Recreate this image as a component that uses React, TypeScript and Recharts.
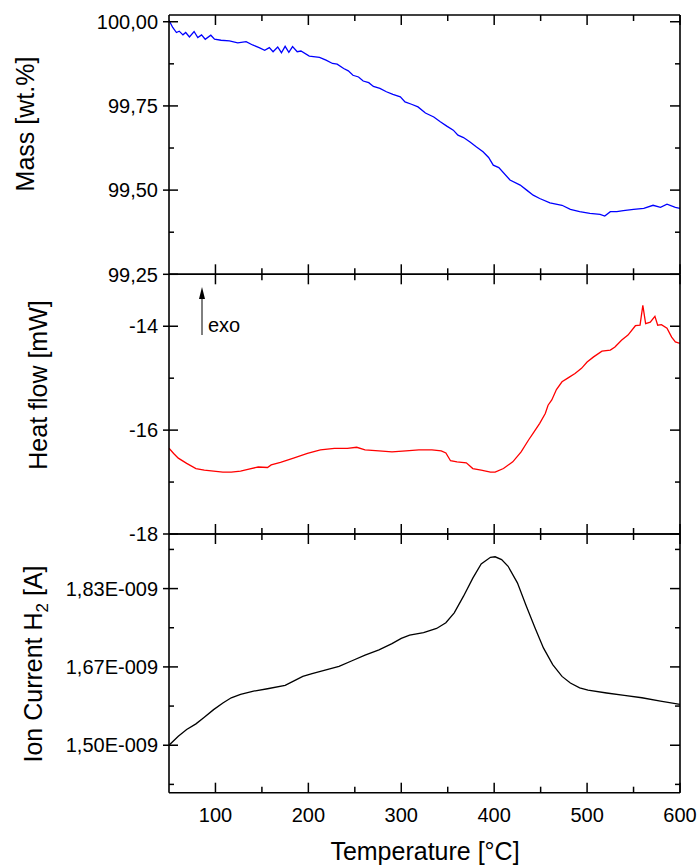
import React from 'react';
import { LineChart, Line, XAxis, YAxis } from 'recharts';

const W = 698;
const H = 865;
const PLOT_LEFT = 169;
const PLOT_RIGHT = 680;
const FONT = '"Liberation Sans", Arial, sans-serif';
const THIN = 0.01; // axes need a non-zero box to be drawn

// temperature axis
const tempMajor = [100, 200, 300, 400, 500, 600];
const tempMinor = [150, 250, 350, 450, 550];

// TG: mass [wt.%]
const massTemp = [50, 54, 58, 61, 65, 68, 72, 77, 81, 85, 89, 95, 99, 106, 115, 124, 133, 140, 147, 153,
  158, 162, 167, 171, 175, 179, 183, 188, 192, 201, 212, 219, 226, 231, 238, 243, 248, 254, 259, 265,
  270, 277, 284, 291, 299, 304, 311, 318, 326, 335, 342, 349, 356, 361, 367, 374, 381, 388, 394, 399,
  405, 417, 428, 435, 442, 449, 460, 473, 482, 492, 503, 514, 519, 525, 532, 539, 550, 561, 571, 579,
  586, 595, 600];
const massValues = [100.004, 99.983, 99.968, 99.972, 99.961, 99.968, 99.955, 99.971, 99.953, 99.961,
  99.948, 99.96, 99.948, 99.945, 99.943, 99.937, 99.941, 99.931, 99.923, 99.915,
  99.923, 99.911, 99.925, 99.908, 99.927, 99.909, 99.926, 99.911, 99.913, 99.898,
  99.894, 99.886, 99.876, 99.874, 99.861, 99.854, 99.841, 99.836, 99.824, 99.819,
  99.808, 99.802, 99.792, 99.784, 99.777, 99.762, 99.755, 99.747, 99.729, 99.717,
  99.703, 99.69, 99.678, 99.663, 99.656, 99.643, 99.628, 99.614, 99.597, 99.574,
  99.567, 99.53, 99.515, 99.5, 99.485, 99.475, 99.462, 99.455, 99.443, 99.436,
  99.431, 99.428, 99.423, 99.436, 99.436, 99.439, 99.443, 99.446, 99.455, 99.449,
  99.458, 99.449, 99.446];
const massMajor = [99.25, 99.5, 99.75, 100];
const massMinor = [99.375, 99.625, 99.875];

// DSC: heat flow [mW]
const heatTemp = [50, 55, 60, 69, 79, 88, 98, 108, 117, 127, 136, 146, 156, 160, 170, 184, 199, 213, 228, 242,
  252, 261, 276, 290, 305, 319, 333, 343, 348, 353, 360, 370, 377, 386, 396, 401, 410, 420, 429, 437,
  442, 449, 455, 458, 462, 467, 473, 480, 487, 494, 500, 507, 516, 525, 530, 537, 544, 552, 557, 560,
  563, 568, 573, 576, 580, 586, 591, 595, 600];
const heatValues = [-16.35, -16.45, -16.54, -16.64, -16.74, -16.77, -16.79, -16.81, -16.81, -16.79,
  -16.75, -16.71, -16.72, -16.67, -16.62, -16.54, -16.45, -16.38, -16.35, -16.35,
  -16.33, -16.38, -16.4, -16.42, -16.4, -16.38, -16.38, -16.4, -16.44, -16.59,
  -16.61, -16.63, -16.74, -16.77, -16.81, -16.81, -16.74, -16.61, -16.42, -16.19,
  -16.06, -15.87, -15.68, -15.52, -15.42, -15.22, -15.07, -14.99, -14.91, -14.81,
  -14.69, -14.59, -14.48, -14.46, -14.4, -14.27, -14.17, -13.99, -13.98, -13.6,
  -13.95, -13.92, -13.81, -13.98, -13.97, -14.04, -14.21, -14.3, -14.33];
const heatMajor = [-18, -16, -14];
const heatMinor = [-17, -15];

// MS: ion current H2 [1e-9 A]
const ionTemp = [50, 60, 69, 79, 88, 98, 108, 117, 127, 141, 156, 175, 184, 194, 204, 218, 233, 247, 261, 276,
  290, 300, 309, 324, 338, 348, 357, 367, 377, 386, 396, 401, 408, 415, 425, 434, 444, 453, 463, 473,
  482, 492, 501, 521, 540, 559, 579, 600];
const ionValues = [1.5, 1.519, 1.533, 1.545, 1.559, 1.575, 1.589, 1.6, 1.607, 1.614,
  1.619, 1.626, 1.635, 1.645, 1.651, 1.658, 1.666, 1.678, 1.69, 1.701,
  1.714, 1.725, 1.732, 1.737, 1.746, 1.758, 1.779, 1.814, 1.852, 1.882,
  1.896, 1.897, 1.891, 1.877, 1.842, 1.796, 1.747, 1.705, 1.67, 1.645,
  1.631, 1.621, 1.616, 1.61, 1.605, 1.6, 1.593, 1.586];
const ionMajor = [1.5, 1.665, 1.83];
const ionMajorLabels = ['1,50E-009', '1,67E-009', '1,83E-009'];
const ionMinor = [1.4175, 1.5825, 1.7475, 1.9125];

const axisLine = { stroke: '#000', strokeWidth: 1.6 };

type PanelProps = {
  temps: number[];
  values: number[];
  color: string;
  domain: [number, number];
  major: number[];
  minor: number[];
  fmt: (v: number) => string;
  top: number;
  bottom: number;
  showX?: boolean;
};

const near = (list: number[], v: number) => list.some((m) => Math.abs(m - v) < 1e-6);

const Panel = ({ temps, values, color, domain, major, minor, fmt, top, bottom, showX }: PanelProps) => {
  const data = temps.map((t, i) => ({ t, v: values[i] }));

  const leftTick = (p: any) => {
    const { x, y, payload } = p;
    if (near(major, payload.value)) {
      return (
        <g>
          <line x1={x - 6} x2={x + 9} y1={y} y2={y} stroke="#000" strokeWidth={1.5} />
          <text x={x - 11} y={y} dy="0.36em" textAnchor="end" fontSize={20} fontFamily={FONT} fill="#000">
            {fmt(payload.value)}
          </text>
        </g>
      );
    }
    return <line x1={x} x2={x + 5} y1={y} y2={y} stroke="#000" strokeWidth={1.5} />;
  };

  const rightTick = (p: any) => {
    const { x, y, payload } = p;
    const len = near(major, payload.value) ? 10 : 5;
    return <line x1={x - len} x2={x} y1={y} y2={y} stroke="#000" strokeWidth={1.5} />;
  };

  const bottomTick = (p: any) => {
    const { x, y, payload } = p;
    const isMajor = near(tempMajor, payload.value);
    return (
      <g>
        <line x1={x} x2={x} y1={y} y2={y - (isMajor ? 10 : 6)} stroke="#000" strokeWidth={1.5} />
        {showX && isMajor && (
          <text x={x} y={y + 29} textAnchor="middle" fontSize={20} fontFamily={FONT} fill="#000">
            {payload.value}
          </text>
        )}
      </g>
    );
  };

  const topTick = (p: any) => {
    const { x, y, payload } = p;
    const isMajor = near(tempMajor, payload.value);
    return <line x1={x} x2={x} y1={y} y2={y + (isMajor ? 10 : 6)} stroke="#000" strokeWidth={1.5} />;
  };

  const xCommon = {
    dataKey: 't',
    type: 'number' as const,
    domain: [50, 600],
    ticks: [...tempMajor, ...tempMinor],
    interval: 0,
    height: THIN,
    tickSize: 0,
    tickMargin: 0,
    tickLine: false,
    axisLine,
    allowDataOverflow: true,
  };
  const yCommon = {
    type: 'number' as const,
    domain,
    ticks: [...major, ...minor],
    interval: 0,
    width: THIN,
    tickSize: 0,
    tickMargin: 0,
    tickLine: false,
    axisLine,
    allowDataOverflow: true,
  };

  return (
    <div style={{ position: 'absolute', left: 0, top: 0 }}>
      <LineChart
        width={W}
        height={H}
        data={data}
        margin={{ top: top - THIN, bottom: H - bottom - THIN, left: PLOT_LEFT - THIN, right: W - PLOT_RIGHT - THIN }}
      >
        <XAxis xAxisId="b" orientation="bottom" {...xCommon} tick={bottomTick} />
        <XAxis xAxisId="t" orientation="top" {...xCommon} tick={topTick} />
        <YAxis yAxisId="l" orientation="left" {...yCommon} tick={leftTick} />
        <YAxis yAxisId="r" orientation="right" {...yCommon} tick={rightTick} />
        <Line
          xAxisId="b"
          yAxisId="l"
          type="linear"
          dataKey="v"
          stroke={color}
          strokeWidth={1.3}
          dot={false}
          activeDot={false}
          isAnimationActive={false}
        />
      </LineChart>
    </div>
  );
};

const comma2 = (v: number) => v.toFixed(2).replace('.', ',');

export default function App() {
  return (
    <div style={{ position: 'absolute', left: 0, top: 0, width: W, height: H, background: '#fff', fontFamily: FONT }}>
      <Panel
        temps={massTemp}
        values={massValues}
        color="#0000ff"
        domain={[99.25, 100.02]}
        major={massMajor}
        minor={massMinor}
        fmt={comma2}
        top={15}
        bottom={274.3}
      />
      <Panel
        temps={heatTemp}
        values={heatValues}
        color="#ff0000"
        domain={[-18, -13]}
        major={heatMajor}
        minor={heatMinor}
        fmt={(v) => String(v)}
        top={274.3}
        bottom={534}
      />
      <Panel
        temps={ionTemp}
        values={ionValues}
        color="#000000"
        domain={[1.4, 1.945]}
        major={ionMajor}
        minor={ionMinor}
        fmt={(v) => ionMajorLabels[ionMajor.findIndex((m) => Math.abs(m - v) < 1e-6)]}
        top={534}
        bottom={792.7}
        showX
      />
      <svg
        width={W}
        height={H}
        style={{ position: 'absolute', left: 0, top: 0, pointerEvents: 'none' }}
        fontFamily={FONT}
      >
        <text transform="translate(34,124) rotate(-90)" textAnchor="middle" fontSize={25} fill="#000">
          Mass [wt.%]
        </text>
        <text transform="translate(47,385) rotate(-90)" textAnchor="middle" fontSize={25} fill="#000">
          Heat flow [mW]
        </text>
        <text transform="translate(42,664) rotate(-90)" textAnchor="middle" fontSize={25} fill="#000">
          Ion Current H<tspan dy={6} fontSize={17}>2</tspan>
          <tspan dy={-6}> [A]</tspan>
        </text>
        <text x={425} y={860} textAnchor="middle" fontSize={25} fill="#000">
          Temperature [°C]
        </text>
        <line x1={202} x2={202} y1={298} y2={335} stroke="#000" strokeWidth={1} />
        <polygon points="202,287 199,299 205,299" fill="#000" />
        <text x={208} y={332} fontSize={20} fill="#000">
          exo
        </text>
      </svg>
    </div>
  );
}
